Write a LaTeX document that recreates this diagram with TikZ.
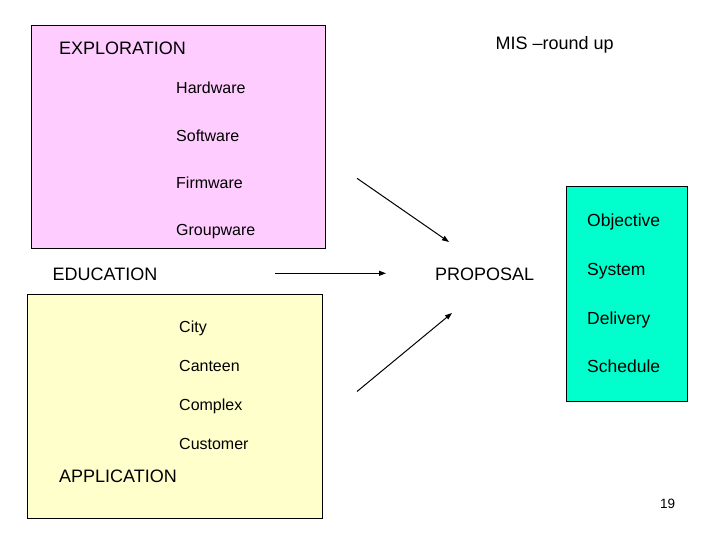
\documentclass[tikz,border=0pt]{standalone}
\usepackage{fontspec}
\setmainfont{Liberation Sans}
\usetikzlibrary{arrows.meta,positioning}
\definecolor{lilac}{HTML}{FFCCFF}
\definecolor{cream}{HTML}{FFFFCC}
\definecolor{aqua}{HTML}{00FFCC}
\tikzset{
  panel/.style={
    rectangle, draw=black, fill=#1, line width=0.8pt,
    inner sep=0pt, anchor=north west
  },
  panel/.default=lilac,
  bigword/.style={
    font=\fontsize{18}{20}\selectfont, anchor=base west, inner sep=0pt
  },
  itemword/.style={
    font=\fontsize{16}{18}\selectfont, anchor=base west, inner sep=0pt
  },
  goalword/.style={
    font=\fontsize{17.5}{20}\selectfont, anchor=base west, inner sep=0pt
  },
  flowarrow/.style={
    -{Triangle[length=7pt,width=5pt]}, line width=1pt, color=black
  },
}

\begin{document}
\begin{tikzpicture}[x=1pt,y=-1pt]
  \useasboundingbox (0,0) rectangle (720,540);

  % Exploration panel
  \node[panel=lilac, minimum width=294pt, minimum height=223pt] (explorebox) at (30.5,25) {};
  \node[bigword] (explore) at (59,55) {EXPLORATION};
  \node[itemword] (hardware) at (176,94) {Hardware};
  \node[itemword] (software) at (176,142) {Software};
  \node[itemword] (firmware) at (176,189) {Firmware};
  \node[itemword] (groupware) at (176,236) {Groupware};
  \node[bigword] (mis) at (495.5,50) {MIS --round up};

  % Application panel
  \node[panel=cream, minimum width=295pt, minimum height=224pt] (applybox) at (27,294.3) {};
  \node[itemword] (city) at (179,332.5) {City};
  \node[itemword] (canteen) at (179,371.5) {Canteen};
  \node[itemword] (complex) at (179,410.5) {Complex};
  \node[itemword] (customer) at (179,449.5) {Customer};
  \node[bigword] (application) at (59,482.3) {APPLICATION};

  % Proposal panel
  \node[panel=aqua, minimum width=121pt, minimum height=215.5pt] (proposalbox) at (565.7,185.7) {};
  \node[goalword] (objective) at (587,226.5) {Objective};
  \node[goalword] (system) at (587,275.5) {System};
  \node[goalword] (delivery) at (587,324) {Delivery};
  \node[goalword] (schedule) at (587,372.5) {Schedule};

  \node[bigword] (education) at (52.5,280) {EDUCATION};
  \node[bigword] (proposal) at (435,280) {PROPOSAL};
  \node[font=\fontsize{13.5}{16}\selectfont, anchor=base west, inner sep=0pt] (pagenum) at (660,508.3) {19};

  % Arrows into the proposal
  \coordinate (fromexplore) at (357,178.3);
  \coordinate (toexplore) at (449,242);
  \coordinate (fromeducation) at (275,273.3);
  \coordinate (toeducation) at (386,273.3);
  \coordinate (fromapply) at (357,391.5);
  \coordinate (toapply) at (452,313);
  \draw[flowarrow] (fromexplore) -- (toexplore);
  \draw[flowarrow] (fromeducation) -- (toeducation);
  \draw[flowarrow] (fromapply) -- (toapply);
\end{tikzpicture}
\end{document}
